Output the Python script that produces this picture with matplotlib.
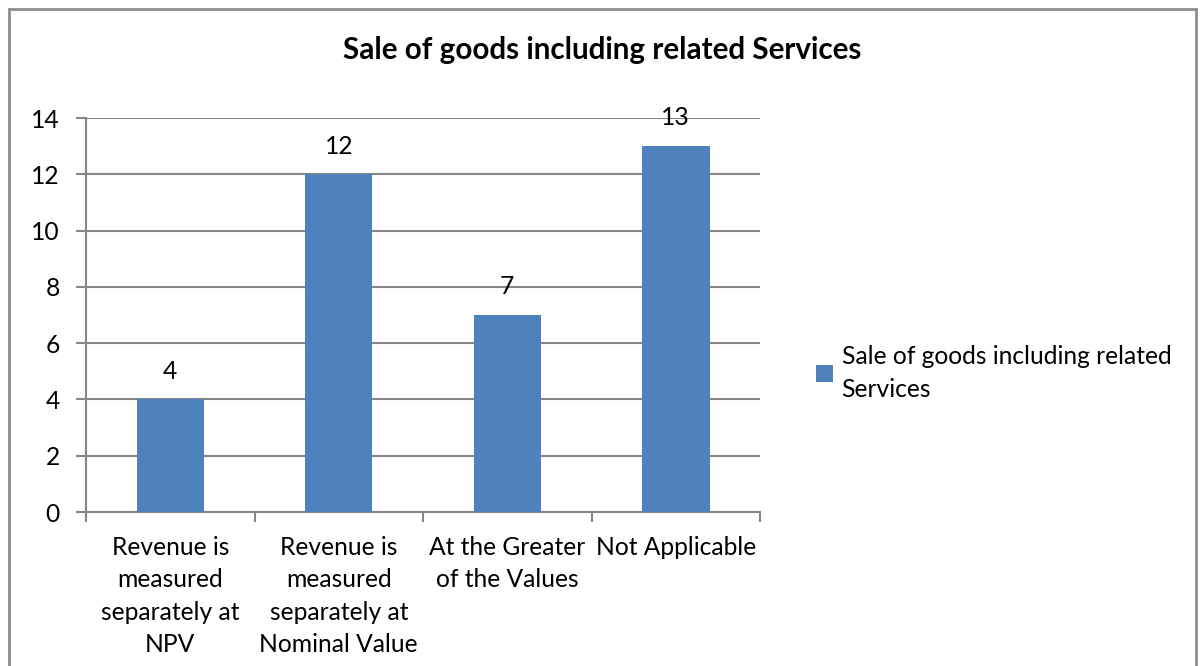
import matplotlib.pyplot as plt
from matplotlib.patches import Rectangle

# Survey responses: how revenue is measured for sale of goods with related services
categories = [
    "Revenue is\nmeasured\nseparately at\nNPV",
    "Revenue is\nmeasured\nseparately at\nNominal Value",
    "At the Greater\nof the Values",
    "Not Applicable",
]
counts = [4, 12, 7, 13]
series_name = "Sale of goods including related\nServices"
y_ticks = [0, 2, 4, 6, 8, 10, 12, 14]

plt.rcParams['font.family'] = ['Lato', 'DejaVu Sans']

bar_color = '#4F81BD'
grid_color = '#868686'
fs = 17.7

fig = plt.figure(figsize=(12.03, 6.66), dpi=100)
ax = fig.add_axes([0.0715, 0.2312, 0.5603, 0.5916])

positions = list(range(len(categories)))
bars = ax.bar(positions, counts, width=0.4, color=bar_color, label=series_name, zorder=3)

# Value labels above each bar
for rect, val in zip(bars, counts):
    ax.annotate(f"{val}", (rect.get_x() + rect.get_width() / 2, rect.get_height()),
                xytext=(0, 12), textcoords='offset points',
                ha='center', va='bottom', fontsize=fs, color='black')

ax.set_xlim(-0.5, len(categories) - 0.5)
ax.set_ylim(0, 14)
ax.set_yticks(y_ticks)
ax.set_yticklabels([str(t) for t in y_ticks], fontsize=fs)
ax.yaxis.grid(True, color=grid_color, linewidth=1.5, zorder=0)

# Category labels at bar centres, tick marks at category boundaries
ax.set_xticks(positions)
ax.set_xticklabels(categories, fontsize=fs, linespacing=1.5)
ax.set_xticks([p - 0.5 for p in positions] + [len(categories) - 0.5], minor=True)
ax.tick_params(axis='x', which='major', length=0, pad=17)
ax.tick_params(axis='x', which='minor', length=7, width=1.5, color=grid_color)
ax.tick_params(axis='y', length=7, width=1.5, color=grid_color, pad=12)

for side in ['top', 'right']:
    ax.spines[side].set_visible(False)
for side in ['left', 'bottom']:
    ax.spines[side].set_color(grid_color)
    ax.spines[side].set_linewidth(1.5)

fig.text(0.5004, 0.925, "Sale of goods including related Services",
         ha='center', va='center', fontsize=21.3, fontweight='bold')

leg = fig.legend(loc='center left', bbox_to_anchor=(0.6597, 0.440), frameon=False,
                 fontsize=fs, handlelength=0.7, handleheight=0.7, handletextpad=0.35,
                 labelspacing=0.2)
for t in leg.get_texts():
    t.set_linespacing(1.5)

# Chart-area border
fig.patches.append(Rectangle((9 / 1203, -0.1), (1196 - 9) / 1203, 1.1 - 9 / 666,
                             transform=fig.transFigure, fill=False,
                             edgecolor='#8C8C8C', linewidth=2))

fig.savefig('out.png', dpi=100)
